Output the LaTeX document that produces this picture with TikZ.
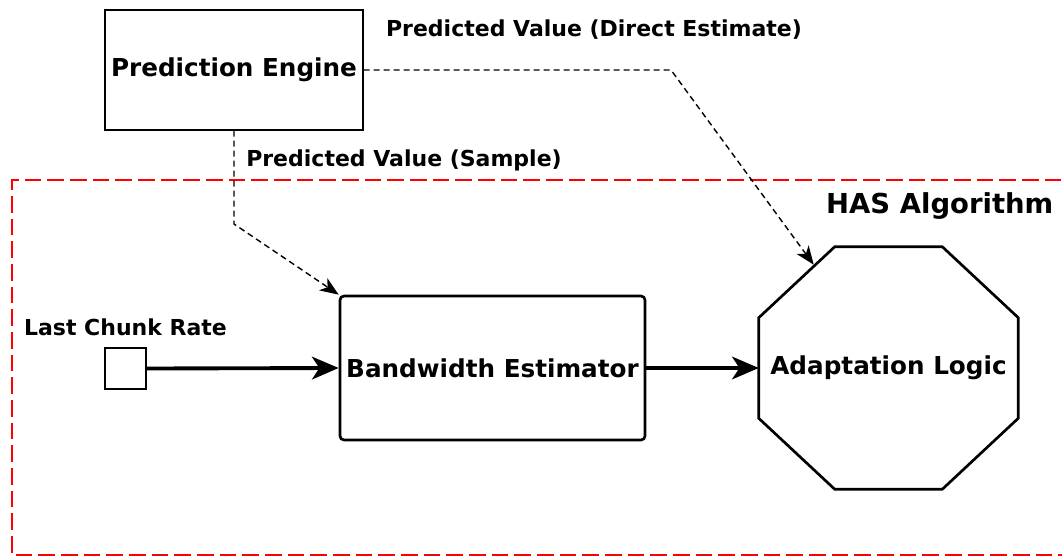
\documentclass[tikz,border=0pt]{standalone}
\usepackage{fontspec}
\setmainfont{DejaVu Sans}
\usetikzlibrary{arrows.meta,calc}
\tikzset{
  flowtip/.tip={Stealth[length=20pt,width=17pt,inset=5.5pt]},
  dtip/.tip={Stealth[length=14pt,width=11pt,inset=4pt]},
}
\begin{document}
\begin{tikzpicture}[x=0.75pt,y=-0.75pt,
  bigtext/.style={font=\bfseries\fontsize{18.5}{21}\selectfont},
  edgetext/.style={font=\bfseries\fontsize{16.5}{19}\selectfont},
  flow/.style={line width=2.9pt,arrows={-flowtip}},
  dflow/.style={line width=1.05pt,dash pattern=on 4.5pt off 3pt,arrows={-dtip}},
  ]
\useasboundingbox (0,0) rectangle (1062,556);
% HAS region
\draw[red,line width=2.2pt,dash pattern=on 12.5pt off 4.5pt] (1075,555) -- (12,555) -- (12,180) -- (1075,180);
\node[font=\bfseries\fontsize{20.6}{24}\selectfont,anchor=east] (has) at (1058,206) {HAS Algorithm};
% nodes
\node[draw,line width=0.85pt,minimum width=193.5pt,minimum height=90pt,inner sep=0pt,bigtext] (pe) at (234,70) {\raisebox{-1.5pt}{Prediction Engine}};
\node[draw,line width=2pt,rounded corners=3pt,minimum width=228.75pt,minimum height=108pt,inner sep=0pt,bigtext] (be) at (492.5,368) {\raisebox{-1.5pt}{Bandwidth Estimator}};
\node[minimum width=194.25pt,minimum height=181.5pt,inner sep=0pt,bigtext] (al) at (888.5,368) {\raisebox{-1.5pt}{Adaptation Logic}};
\draw[line width=2pt] ($(al.north west)+(76,0)$) -- ($(al.north east)+(-76,0)$) -- ($(al.north east)+(0,71)$) -- ($(al.south east)+(0,-71)$) -- ($(al.south east)+(-76,0)$) -- ($(al.south west)+(76,0)$) -- ($(al.south west)+(0,-71)$) -- ($(al.north west)+(0,71)$) -- cycle;
\coordinate (alin) at ($(al.north west)+(55,18)$);
\node[draw,line width=1.1pt,minimum width=30.75pt,minimum height=30.75pt,inner sep=0pt] (lcr) at (125.5,368.5) {};
\node[edgetext] (lcrlabel) at (125.5,327) {Last Chunk Rate};
% connectors
\draw[flow] (lcr.east) -- (be.west);
\draw[flow] (be.east) -- (al.west);
\coordinate (b1) at (234,224);
\draw[dflow] (pe.south) -- (b1) -- (be.north west);
\coordinate (b2) at (671,70);
\draw[dflow] (pe.east) -- (b2) -- (alin);
\node[edgetext] (l1) at (594,30) {Predicted Value (Direct Estimate)};
\node[edgetext] (l2) at (404,160) {Predicted Value (Sample)};
\end{tikzpicture}
\end{document}
